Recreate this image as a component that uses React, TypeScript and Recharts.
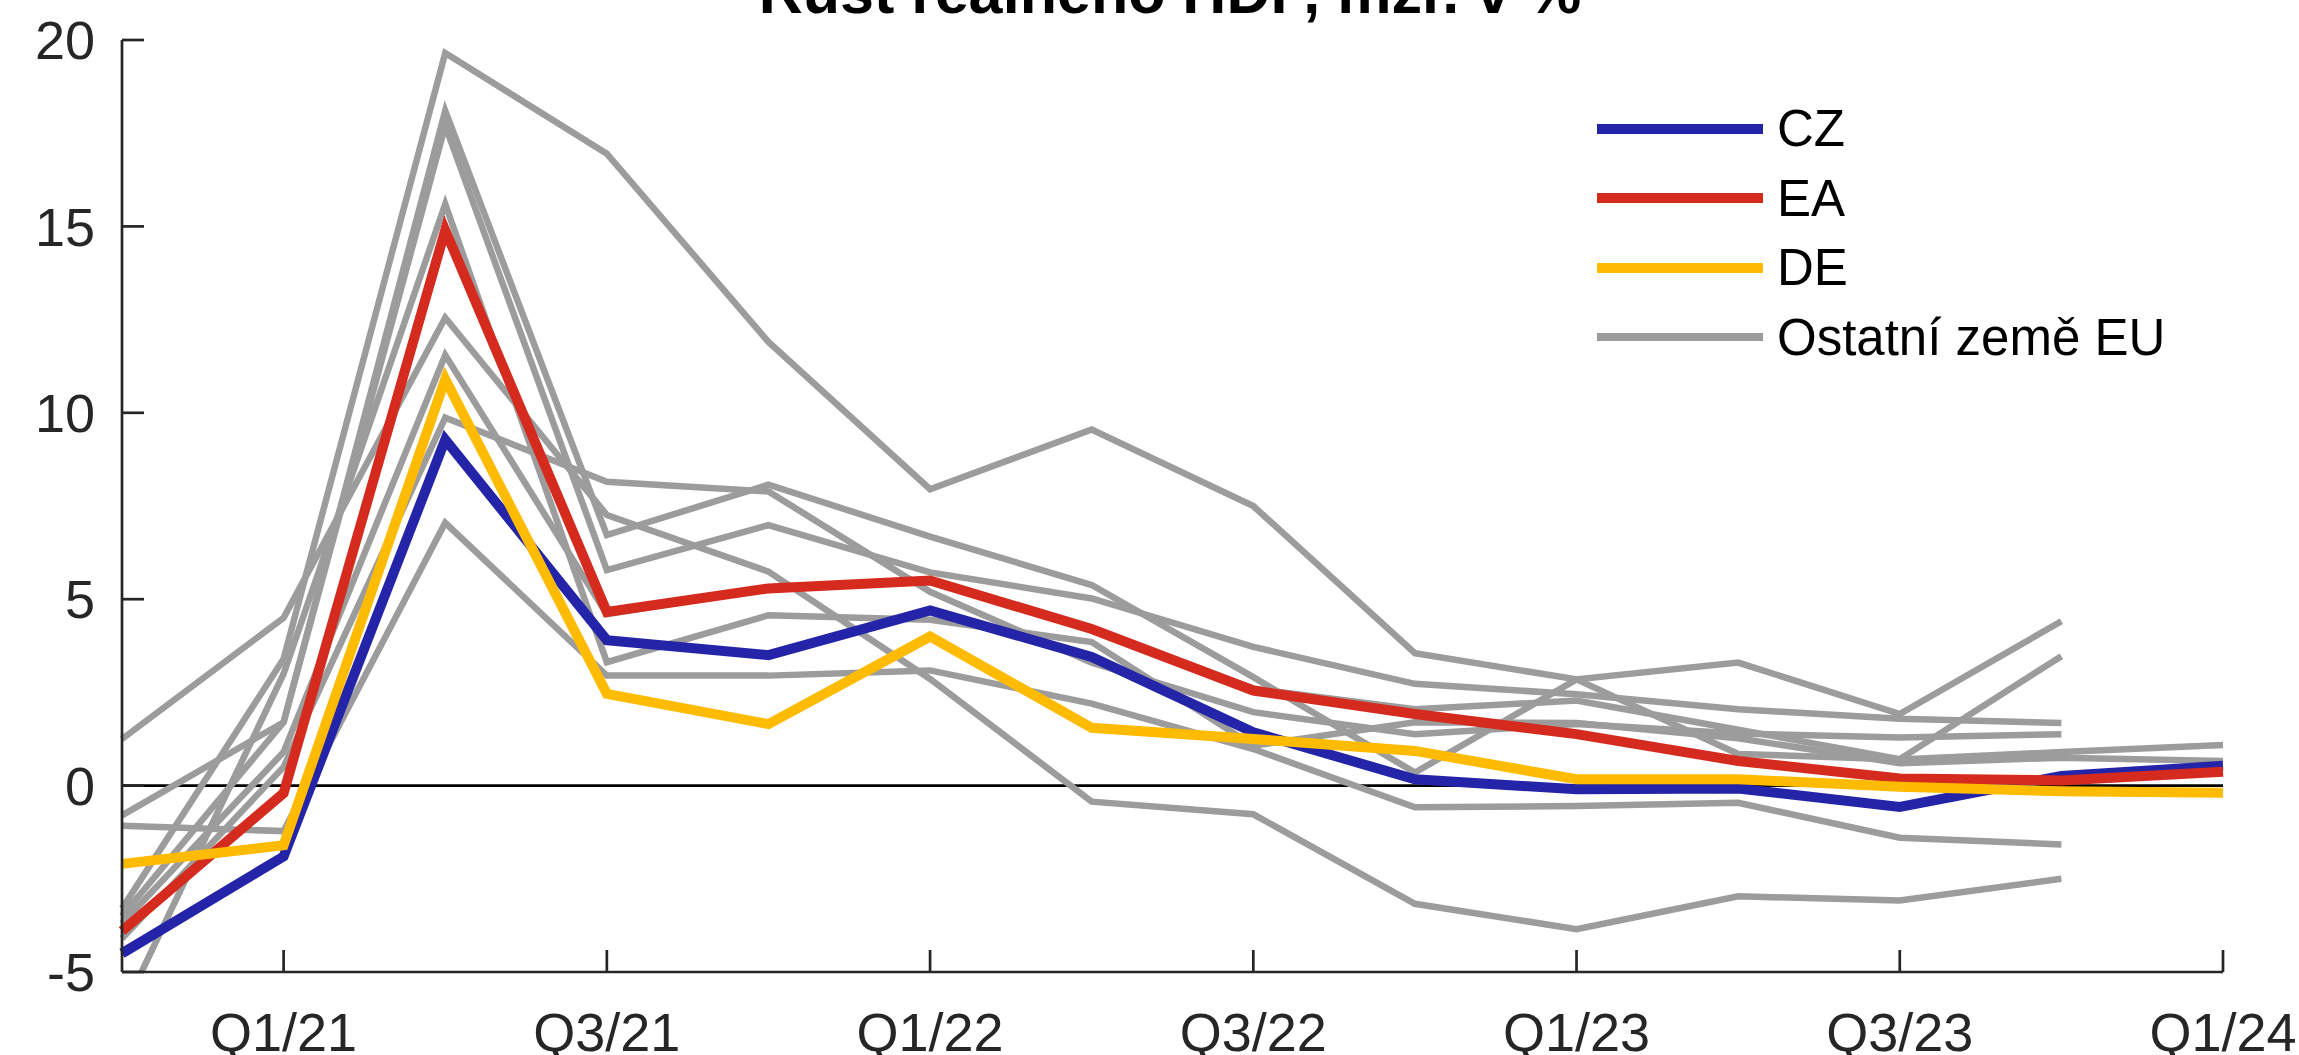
import React from 'react';
import { LineChart, Line, XAxis, YAxis, ReferenceLine, Legend } from 'recharts';

// Quarters on the x axis
const quarters = ['Q4/20', 'Q1/21', 'Q2/21', 'Q3/21', 'Q4/21', 'Q1/22', 'Q2/22', 'Q3/22', 'Q4/22', 'Q1/23', 'Q2/23', 'Q3/23', 'Q4/23', 'Q1/24'];
const xTickLabels = ['Q1/21', 'Q3/21', 'Q1/22', 'Q3/22', 'Q1/23', 'Q3/23', 'Q1/24'];
const yTicks = [-5, 0, 5, 10, 15, 20];

// Highlighted series (y/y real GDP growth, %)
const cz = [-4.5, -1.9, 9.28, 3.9, 3.5, 4.7, 3.45, 1.43, 0.17, -0.1, -0.08, -0.57, 0.26, 0.53];
const ea = [-3.9, -0.2, 14.9, 4.66, 5.29, 5.5, 4.2, 2.55, 1.92, 1.38, 0.66, 0.19, 0.14, 0.37];
const de = [-2.1, -1.6, 10.9, 2.46, 1.65, 4.0, 1.55, 1.25, 0.93, 0.17, 0.17, -0.03, -0.15, -0.19];

// Other EU countries
const g1 = [-3.3, 3.4, 19.65, 16.95, 11.9, 7.95, 9.55, 7.5, 3.55, 2.85, 0.85, 0.7, 0.9, 1.09];
const g2 = [-3.5, 1.7, 18.1, 6.72, 8.07, 6.68, 5.38, 2.91, 0.35, 2.85, 3.3, 1.92, 4.41, null];
const g3 = [-0.8, 1.7, 17.7, 5.78, 6.99, 5.72, 5.02, 3.72, 2.73, 2.45, 2.05, 1.79, 1.68, null];
const g4 = [1.25, 4.5, 12.55, 7.26, 5.74, 2.86, -0.43, -0.77, -3.17, -3.85, -2.97, -3.08, -2.5, null];
const g5 = [-1.08, -1.22, 7.05, 2.95, 2.95, 3.09, 2.2, 0.98, -0.58, -0.55, -0.46, -1.4, -1.58, null];
const g6 = [-6.1, 3.0, 15.6, 3.31, 4.57, 4.45, 3.85, 1.07, 1.7, 1.68, 1.27, 0.6, 0.75, 0.66];
const g7 = [-4.1, 0.5, 9.87, 8.15, 7.89, 5.2, 3.3, 1.97, 1.38, 1.65, 1.4, 1.29, 1.38, null];
const g8 = [-3.7, 0.9, 11.55, 4.6, 5.3, 5.5, 4.2, 2.6, 2.05, 2.28, 1.5, 0.71, 3.47, null];
const others = [g1, g2, g3, g4, g5, g6, g7, g8];

const TITLE = 'Růst reálného HDP, mzr. v %';
const BLUE = '#2424A8';
const RED = '#D52B1E';
const YELLOW = '#FFBB00';
const GRAY = '#9C9C9C';
const FONT = '"Liberation Sans", Arial, Helvetica, sans-serif';

const legendItems = [
  { label: 'CZ', color: BLUE, w: 10 },
  { label: 'EA', color: RED, w: 10 },
  { label: 'DE', color: YELLOW, w: 10 },
  { label: 'Ostatní země EU', color: GRAY, w: 8 },
];

const data = quarters.map((q, i) => {
  const row: Record<string, any> = { i, q, cz: cz[i], ea: ea[i], de: de[i] };
  others.forEach((g, k) => {
    row['g' + (k + 1)] = g[i];
  });
  return row;
});

const xTicks = xTickLabels.map((l) => quarters.indexOf(l));

const renderLegend = () => (
  <div style={{ fontFamily: FONT }}>
    {legendItems.map((it) => (
      <div key={it.label} style={{ display: 'flex', alignItems: 'center', height: 69.5 }}>
        <div style={{ width: 166, height: it.w, background: it.color }} />
        <span style={{ marginLeft: 14, fontSize: 51, lineHeight: '69.5px', color: '#000', whiteSpace: 'nowrap' }}>{it.label}</span>
      </div>
    ))}
  </div>
);

export default function App() {
  const tickStyle = { fontSize: 54, fill: '#262626', fontFamily: FONT };
  return (
    <div style={{ position: 'absolute', left: 0, top: 0, width: 2299, height: 1055, overflow: 'hidden', background: '#fff' }}>
      <div
        style={{
          position: 'absolute',
          left: 1170,
          top: -38,
          transform: 'translateX(-50%)',
          fontFamily: FONT,
          fontWeight: 'bold',
          fontSize: 61,
          lineHeight: '60px',
          whiteSpace: 'nowrap',
          color: '#000',
          zIndex: 2,
        }}
      >
        {TITLE}
      </div>
      <LineChart width={2299} height={1055} data={data} margin={{ top: 40, right: 76, bottom: 0, left: 0 }}>
        <XAxis
          dataKey="i"
          type="number"
          domain={[0, quarters.length - 1]}
          ticks={xTicks}
          tickFormatter={(v: number) => quarters[v]}
          height={83}
          tick={tickStyle}
          tickSize={-22}
          tickMargin={63}
          axisLine={{ stroke: '#262626', strokeWidth: 2.7 }}
          tickLine={{ stroke: '#262626', strokeWidth: 2.7 }}
          interval={0}
          allowDecimals={false}
        />
        <YAxis
          type="number"
          domain={[-5, 20]}
          ticks={yTicks}
          allowDataOverflow
          width={122}
          tick={tickStyle}
          tickSize={-22}
          tickMargin={49}
          axisLine={{ stroke: '#262626', strokeWidth: 2.7 }}
          tickLine={{ stroke: '#262626', strokeWidth: 2.7 }}
          interval={0}
        />
        <ReferenceLine y={0} stroke="#000" strokeWidth={2.7} />
        {others.map((_, k) => (
          <Line
            key={'g' + (k + 1)}
            dataKey={'g' + (k + 1)}
            stroke={GRAY}
            strokeWidth={6.5}
            dot={false}
            activeDot={false}
            isAnimationActive={false}
            type="linear"
            legendType="none"
          />
        ))}
        <Line dataKey="cz" name="CZ" stroke={BLUE} strokeWidth={10} dot={false} activeDot={false} isAnimationActive={false} type="linear" />
        <Line dataKey="ea" name="EA" stroke={RED} strokeWidth={10} dot={false} activeDot={false} isAnimationActive={false} type="linear" />
        <Line dataKey="de" name="DE" stroke={YELLOW} strokeWidth={10} dot={false} activeDot={false} isAnimationActive={false} type="linear" />
        <Legend
          layout="vertical"
          align="center"
          verticalAlign="middle"
          content={renderLegend}
          wrapperStyle={{ position: 'absolute', left: 1597, top: 94, width: 600, height: 278 }}
        />
      </LineChart>
    </div>
  );
}
